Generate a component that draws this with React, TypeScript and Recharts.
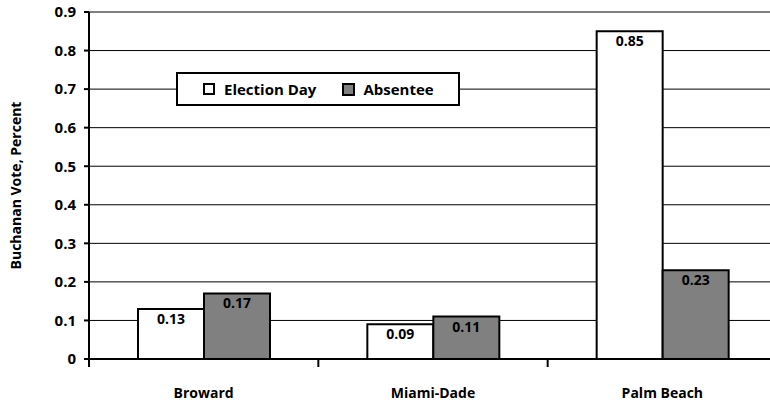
import React from "react";
import { BarChart, Bar, XAxis, YAxis, CartesianGrid, Legend, LabelList } from "recharts";

const counties = ["Broward", "Miami-Dade", "Palm Beach"];
const electionDay = [0.13, 0.09, 0.85];
const absentee = [0.17, 0.11, 0.23];
const yTicks = [0, 0.1, 0.2, 0.3, 0.4, 0.5, 0.6, 0.7, 0.8, 0.9];

const data = counties.map((c, i) => ({
  county: c,
  election: electionDay[i],
  absentee: absentee[i],
}));

const FONT = "'Open Sans', Lato, sans-serif";
const W = 790;
const H = 404;
const LEFT = 89;
const RIGHT = 13;
const BAND = (W - LEFT - RIGHT) / counties.length;

function XTick(props: any) {
  const { x, y, payload } = props;
  return (
    <g>
      <line x1={x - BAND / 2} x2={x - BAND / 2} y1={y} y2={y + 8} stroke="#000" strokeWidth={2} />
      <text
        x={x}
        y={y + 35}
        textAnchor="middle"
        dominantBaseline="middle"
        fontFamily={FONT}
        fontWeight={700}
        fontSize={14}
        fill="#000"
      >
        {payload.value}
      </text>
    </g>
  );
}

function YLabel(props: any) {
  const { viewBox } = props;
  const cx = 17;
  const cy = viewBox.y + viewBox.height / 2;
  return (
    <text
      x={cx}
      y={cy}
      transform={`rotate(-90 ${cx} ${cy})`}
      textAnchor="middle"
      dominantBaseline="middle"
      fontFamily={FONT}
      fontWeight={700}
      fontSize={14}
      fill="#000"
    >
      Buchanan Vote, Percent
    </text>
  );
}

function LegendBox() {
  return (
    <div
      style={{
        width: 280,
        height: 30,
        border: "2px solid #000",
        background: "#fff",
        display: "flex",
        alignItems: "center",
        fontFamily: FONT,
        fontWeight: 700,
        fontSize: 15,
        color: "#000",
        boxSizing: "content-box",
      }}
    >
      <span style={{ width: 8, height: 8, border: "2px solid #000", background: "#fff", marginLeft: 25, marginRight: 9 }} />
      <span>Election Day</span>
      <span style={{ width: 9, height: 9, border: "2px solid #000", background: "#808080", marginLeft: 26, marginRight: 8 }} />
      <span>Absentee</span>
    </div>
  );
}

const valueLabelStyle = {
  fontFamily: FONT,
  fontWeight: 700,
  fontSize: 14,
  fill: "#000",
} as React.CSSProperties;

export default function App() {
  return (
    <div style={{ position: "absolute", left: 0, top: 0, width: 770, height: 404, overflow: "hidden", background: "#fff" }}>
      <BarChart
        width={W}
        height={H}
        data={data}
        margin={{ top: 12, right: RIGHT, bottom: 5, left: 0 }}
        barGap={0}
        barSize={66}
      >
        <CartesianGrid vertical={false} stroke="#000" strokeWidth={1} />
        <XAxis
          dataKey="county"
          height={40}
          axisLine={{ stroke: "#000", strokeWidth: 2 }}
          tickLine={false}
          tickSize={0}
          tickMargin={0}
          tick={<XTick />}
          interval={0}
        />
        <YAxis
          width={LEFT}
          domain={[0, 0.9]}
          ticks={yTicks}
          interval={0}
          axisLine={{ stroke: "#000", strokeWidth: 2 }}
          tickLine={{ stroke: "#000", strokeWidth: 2 }}
          tickSize={5}
          tickMargin={8}
          tickFormatter={(v: number) => (v === 0 ? "0" : v.toFixed(1))}
          tick={{ fontFamily: FONT, fontWeight: 700, fontSize: 15, fill: "#000" }}
          label={<YLabel />}
        />
        <Legend
          content={<LegendBox />}
          layout="horizontal"
          verticalAlign="middle"
          align="center"
          wrapperStyle={{ position: "absolute", left: 176, top: 72, width: 284, height: 34 }}
        />
        <Bar dataKey="election" name="Election Day" fill="#fff" stroke="#000" strokeWidth={2} isAnimationActive={false}>
          <LabelList dataKey="election" position="insideTop" offset={5} style={valueLabelStyle} />
        </Bar>
        <Bar dataKey="absentee" name="Absentee" fill="#808080" stroke="#000" strokeWidth={2} isAnimationActive={false}>
          <LabelList dataKey="absentee" position="insideTop" offset={5} style={valueLabelStyle} />
        </Bar>
      </BarChart>
    </div>
  );
}
